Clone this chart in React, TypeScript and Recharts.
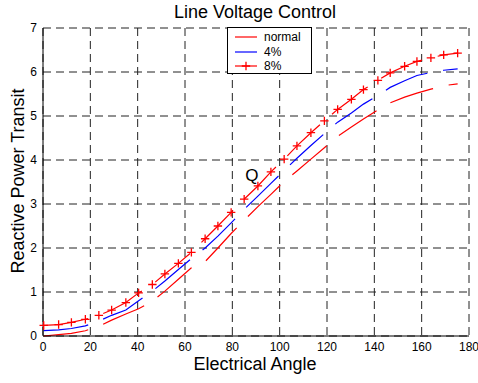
import React from 'react';
import { ComposedChart, Line, XAxis, YAxis, CartesianGrid, Legend, ReferenceDot } from 'recharts';

const ANGLES = [0.3, 6.6, 12.0, 17.9, 23.6, 29.0, 35.0, 40.4, 46.2, 51.5, 57.2, 62.7, 68.5, 73.9, 79.5, 85.0, 90.8, 96.3, 101.9, 107.3, 113.2, 118.9, 124.5, 130.3, 135.4, 141.5, 146.7, 152.8, 158.0, 163.9, 169.3, 175.2];
const NORMAL = [0.0, 0.03, 0.06, 0.12, 0.22, 0.36, 0.5, 0.62, 0.79, 1.02, 1.29, 1.55, 1.69, 2.0, 2.33, 2.63, 2.94, 3.22, 3.51, 3.75, 4.02, 4.28, 4.54, 4.75, 4.93, 5.14, 5.30, 5.43, 5.52, 5.61, 5.69, 5.73];
const PCT4 = [0.12, 0.14, 0.17, 0.23, 0.34, 0.47, 0.59, 0.8, 1.02, 1.25, 1.51, 1.76, 2.0, 2.27, 2.57, 2.88, 3.18, 3.47, 3.76, 4.04, 4.33, 4.60, 4.86, 5.07, 5.27, 5.47, 5.65, 5.80, 5.92, 5.99, 6.04, 6.07];
const PCT8 = [0.24, 0.26, 0.31, 0.38, 0.47, 0.59, 0.76, 0.98, 1.17, 1.41, 1.65, 1.90, 2.21, 2.50, 2.81, 3.11, 3.41, 3.73, 4.02, 4.32, 4.62, 4.89, 5.15, 5.38, 5.60, 5.81, 5.98, 6.13, 6.24, 6.32, 6.39, 6.43];
const X_TICKS = [0, 20, 40, 60, 80, 100, 120, 140, 160, 180];
const Y_TICKS = [0, 1, 2, 3, 4, 5, 6, 7];
const SERIES_NAMES = ['normal', '4%', '8%'];
const Q_LABEL = { x: 88.3, y: 3.66, text: 'Q' };

const rows = ANGLES.map((a, i) => ({ angle: a, normal: NORMAL[i], p4: PCT4[i], p8: PCT8[i] }));

const FONT = '"Liberation Sans", Arial, sans-serif';
const RED = '#ff0000';
const BLUE = '#0000ff';
const DASH = '45 16';

const PlusDot = (props: any) => {
  const { cx, cy, index } = props;
  if (cx == null || cy == null) return <g key={`pd-${index}`} />;
  const s = 4.2;
  return (
    <path
      key={`pd-${index}`}
      d={`M${cx - s},${cy}H${cx + s}M${cx},${cy - s}V${cy + s}`}
      stroke={RED}
      strokeWidth={1.3}
      fill="none"
    />
  );
};

const LegendBox = () => {
  const items = [
    { name: SERIES_NAMES[0], color: RED, marker: false },
    { name: SERIES_NAMES[1], color: BLUE, marker: false },
    { name: SERIES_NAMES[2], color: RED, marker: true },
  ];
  return (
    <div
      style={{
        position: 'relative',
        width: 85,
        height: 47,
        boxSizing: 'border-box',
        border: '1.3px solid #000',
        background: '#fff',
        fontFamily: FONT,
        fontSize: 12,
        color: '#000',
      }}
    >
      {items.map((it, i) => (
        <div key={it.name} style={{ position: 'absolute', left: 0, top: 9 + i * 14.6 - 7, height: 14, width: 85 }}>
          <svg width={30} height={14} style={{ position: 'absolute', left: 0, top: 0 }}>
            <line x1={7} x2={29} y1={7} y2={7} stroke={it.color} strokeWidth={1.2} />
            {it.marker ? <path d="M18,2.8V11.2M13.8,7H22.2" stroke={it.color} strokeWidth={1.3} /> : null}
          </svg>
          <span style={{ position: 'absolute', left: 36, top: 0, lineHeight: '14px' }}>{it.name}</span>
        </div>
      ))}
    </div>
  );
};

export default function App() {
  return (
    <div style={{ position: 'absolute', left: 0, top: 0, width: 478, height: 383, background: '#fff' }}>
      <div
        style={{
          position: 'absolute',
          left: 155,
          width: 200,
          top: 1,
          textAlign: 'center',
          fontFamily: FONT,
          fontSize: 18,
          lineHeight: '22px',
          color: '#000',
        }}
      >
        Line Voltage Control
      </div>
      <ComposedChart width={478} height={383} data={rows} margin={{ top: 28, right: 9, left: 0, bottom: 0 }}>
        <CartesianGrid stroke="#222" strokeDasharray="8 5" strokeWidth={1} />
        <XAxis
          dataKey="angle"
          type="number"
          domain={[0, 180]}
          ticks={X_TICKS}
          height={47}
          tickSize={0}
          tickLine={false}
          tickMargin={6}
          axisLine={{ stroke: '#000' }}
          tick={{ fontSize: 12, fill: '#000', fontFamily: FONT }}
          interval={0}
        />
        <YAxis
          type="number"
          domain={[0, 7]}
          ticks={Y_TICKS}
          width={43}
          tickSize={0}
          tickLine={false}
          tickMargin={6}
          axisLine={{ stroke: '#000' }}
          tick={{ fontSize: 12, fill: '#000', fontFamily: FONT }}
          interval={0}
        />
        <Legend
          layout="horizontal"
          verticalAlign="middle"
          align="center"
          content={() => <LegendBox />}
          wrapperStyle={{ position: 'absolute', left: 227, top: 27, width: 85, height: 47 }}
        />
        <Line dataKey="normal" stroke={RED} strokeWidth={1.2} strokeDasharray={DASH} dot={false} isAnimationActive={false} />
        <Line dataKey="p4" stroke={BLUE} strokeWidth={1.2} strokeDasharray={DASH} dot={false} isAnimationActive={false} />
        <Line dataKey="p8" stroke={RED} strokeWidth={1.2} strokeDasharray={DASH} dot={PlusDot} isAnimationActive={false} />
        <ReferenceDot
          x={Q_LABEL.x}
          y={Q_LABEL.y}
          r={0}
          fill="none"
          stroke="none"
          label={{ value: Q_LABEL.text, position: 'center', fontSize: 17, fill: '#000', fontFamily: FONT }}
        />
      </ComposedChart>
      <div
        style={{
          position: 'absolute',
          left: 155,
          width: 200,
          top: 353,
          textAlign: 'center',
          fontFamily: FONT,
          fontSize: 18,
          lineHeight: '22px',
          color: '#000',
        }}
      >
        Electrical Angle
      </div>
      <div
        style={{
          position: 'absolute',
          left: 17.5 - 110,
          top: 181 - 11,
          width: 220,
          textAlign: 'center',
          fontFamily: FONT,
          fontSize: 18,
          lineHeight: '22px',
          color: '#000',
          transform: 'rotate(-90deg)',
        }}
      >
        Reactive Power Transit
      </div>
    </div>
  );
}
